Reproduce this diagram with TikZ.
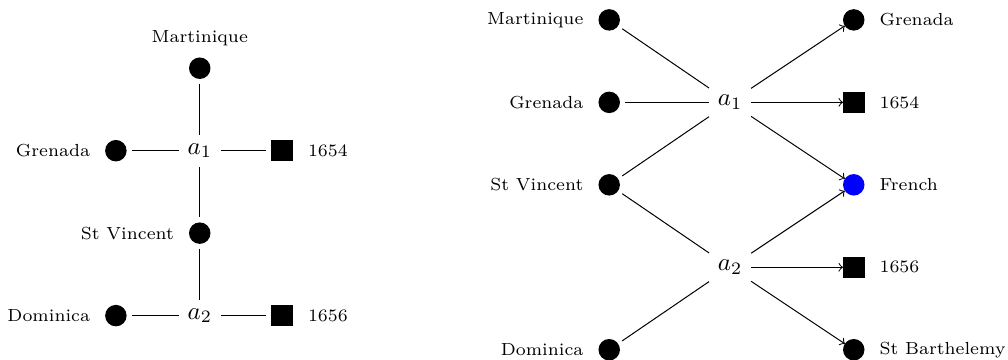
\documentclass[tikz,border=0pt]{standalone}
\usepackage{amssymb,amsmath}
\usepackage{xcolor}
\usepackage{tikz}
\usetikzlibrary{arrows}
\usetikzlibrary{calc}

\begin{document}
\begin{tikzpicture}[dot/.style={circle,fill=black,inner sep=0pt,minimum size=8.6pt,outer sep=2pt},
  sq/.style={rectangle,fill=black,inner sep=0pt,minimum size=8.6pt,outer sep=2pt},
  every label/.style={font=\scriptsize},
  label distance=0.5pt,
  arr/.style={->,shorten >=-2pt}]
\useasboundingbox (0,0) rectangle (14.18,5.06);

% left picture
\node[dot,label={[label distance=-1pt]above:Martinique}] (mart) at (2.81,4.10) {};
\node (a1) at (2.81,2.94) {$a_1$};
\node[dot,label=left:Grenada] (gren) at (1.63,2.94) {};
\node[sq,label=right:1654] (y1654) at (3.97,2.94) {};
\node[dot,label=left:St Vincent] (stv) at (2.81,1.78) {};
\node (a2) at (2.81,0.62) {$a_2$};
\node[dot,label=left:Dominica] (dom) at (1.63,0.62) {};
\node[sq,label=right:1656] (y1656) at (3.97,0.62) {};

\draw (mart) -- (a1);
\draw (gren) -- (a1);
\draw (a1) -- (y1654);
\draw (a1) -- (stv);
\draw (stv) -- (a2);
\draw (dom) -- (a2);
\draw (a2) -- (y1656);

% right picture
\node[dot,label=left:Martinique] (rmart) at (8.57,4.78) {};
\node[dot,label=left:Grenada] (rgren) at (8.57,3.62) {};
\node[dot,label=left:St Vincent] (rstv) at (8.57,2.46) {};
\node[dot,label=left:Dominica] (rdom) at (8.57,0.14) {};
\node (ra1) at (10.27,3.62) {$a_1$};
\node (ra2) at (10.27,1.30) {$a_2$};
\node[dot,label=right:Grenada] (ogren) at (12.01,4.78) {};
\node[sq,label=right:1654] (o1654) at (12.01,3.62) {};
\node[dot,fill=blue,label=right:French] (ofr) at (12.01,2.46) {};
\node[sq,label=right:1656] (o1656) at (12.01,1.30) {};
\node[dot,label=right:St Barthelemy] (obar) at (12.01,0.14) {};

\draw (rmart) -- (ra1);
\draw (rgren) -- (ra1);
\draw (rstv) -- (ra1);
\draw (rstv) -- (ra2);
\draw (rdom) -- (ra2);
\draw[arr] (ra1) -- (ogren);
\draw[arr] (ra1) -- (o1654);
\draw[arr] (ra1) -- (ofr);
\draw[arr] (ra2) -- (ofr);
\draw[arr] (ra2) -- (o1656);
\draw[arr] (ra2) -- (obar);

\end{tikzpicture}
\end{document}
